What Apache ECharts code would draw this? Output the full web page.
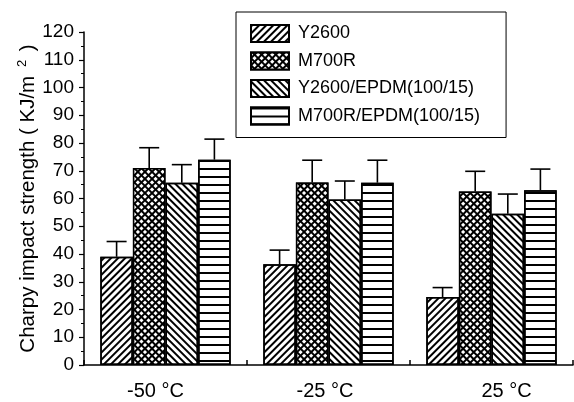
<!DOCTYPE html>
<html>
<head>
<meta charset="utf-8">
<script src="https://cdn.jsdelivr.net/npm/echarts@6/dist/echarts.min.js"></script>
<style>
html,body{margin:0;padding:0;background:#fff;}
#c{width:574px;height:402px;}
</style>
</head>
<body>
<div id="c"></div>
<script>
const categories = ['-50 °C', '-25 °C', '25 °C'];
const seriesNames = ['Y2600', 'M700R', 'Y2600/EPDM(100/15)', 'M700R/EPDM(100/15)'];
const y2600 = [39.0, 36.3, 24.5];
const m700r = [71.0, 65.8, 62.5];
const y2600Epdm = [65.7, 59.6, 54.5];
const m700rEpdm = [74.0, 65.7, 63.0];
const y2600Err = [5.5, 5.1, 3.4];
const m700rErr = [7.3, 8.0, 7.3];
const y2600EpdmErr = [6.5, 6.7, 7.1];
const m700rEpdmErr = [7.4, 8.1, 7.6];
const yTicks = [0, 10, 20, 30, 40, 50, 60, 70, 80, 90, 100, 110, 120];

const values = [y2600, m700r, y2600Epdm, m700rEpdm];
const errors = [y2600Err, m700rErr, y2600EpdmErr, m700rEpdmErr];

const decals = [
  {symbol: 'rect', color: '#000', dashArrayX: [1, 0], dashArrayY: [1.2, 2.4], rotation: -Math.PI / 4},
  {symbol: 'rect', color: '#fff', backgroundColor: '#000', dashArrayX: [2.6, 1.6], dashArrayY: [2.6, 1.6], rotation: Math.PI / 4},
  {symbol: 'rect', color: '#000', dashArrayX: [1, 0], dashArrayY: [1.2, 2.4], rotation: Math.PI / 4},
  {symbol: 'rect', color: '#000', dashArrayX: [1, 0], dashArrayY: [1.3, 5.9], rotation: 0}
];

const font = '"Liberation Sans", Arial, sans-serif';
const chart = echarts.init(document.getElementById('c'), null, {renderer: 'canvas'});

const series = [];
values.forEach((vals, i) => {
  series.push({
    name: seriesNames[i],
    type: 'bar',
    data: vals,
    barGap: '0%',
    barCategoryGap: '20%',
    itemStyle: {color: '#fff', borderColor: '#000', borderWidth: 1.5, decal: decals[i]},
    emphasis: {disabled: true},
    z: 2
  });
});
values.forEach((vals, i) => {
  series.push({
    type: 'custom',
    data: vals.map((v, k) => [k, v, errors[i][k]]),
    encode: {x: 0, y: 1},
    z: 3,
    silent: true,
    renderItem: function (params, api) {
      const x = api.value(0), v = api.value(1), e = api.value(2);
      const bw = api.size([1, 0])[0];
      const w = bw * 0.8 / 4;
      const off = (i - 1.5) * w;
      const p0 = api.coord([x, v]);
      const p1 = api.coord([x, v + e]);
      const cx = p0[0] + off;
      const half = 10;
      const st = {stroke: '#000', lineWidth: 1.6};
      return {
        type: 'group',
        children: [
          {type: 'line', shape: {x1: cx, y1: p0[1], x2: cx, y2: p1[1]}, style: st},
          {type: 'line', shape: {x1: cx - half, y1: p1[1], x2: cx + half, y2: p1[1]}, style: st}
        ]
      };
    }
  });
});

const labelStyles = ['l0', 'l1', 'l2'];
chart.setOption({
  animation: false,
  backgroundColor: '#fff',
  grid: {left: 84, right: 1, top: 32, bottom: 37},
  legend: {
    data: seriesNames,
    orient: 'vertical',
    left: 236,
    top: 12,
    padding: [12, 26, 12, 14],
    itemWidth: 38,
    itemHeight: 17,
    itemGap: 8.5,
    borderColor: '#000',
    borderWidth: 1,
    icon: 'rect',
    selectedMode: false,
    textStyle: {fontFamily: font, fontSize: 18, lineHeight: 18, color: '#000', padding: [0, 0, 0, 4]}
  },
  xAxis: {
    type: 'category',
    data: categories,
    axisLine: {lineStyle: {color: '#000', width: 1.5}},
    axisTick: {show: true, inside: true, length: 5, lineStyle: {color: '#000', width: 1.5}},
    axisLabel: {
      fontFamily: font, fontSize: 20, color: '#000', margin: 16,
      formatter: function (value, index) { return '{' + labelStyles[index] + '|' + value + '}'; },
      rich: {
        l0: {fontFamily: font, fontSize: 20, color: '#000', padding: [0, 20, 0, 0]},
        l1: {fontFamily: font, fontSize: 20, color: '#000', padding: [0, 7, 0, 0]},
        l2: {fontFamily: font, fontSize: 20, color: '#000', padding: [0, 0, 0, 30]}
      }
    }
  },
  yAxis: {
    type: 'value',
    min: yTicks[0],
    max: yTicks[yTicks.length - 1],
    interval: yTicks[1] - yTicks[0],
    splitLine: {show: false},
    axisLine: {show: true, lineStyle: {color: '#000', width: 1.5}},
    axisTick: {show: true, length: 5, lineStyle: {color: '#000', width: 1.2}},
    minorTick: {show: true, splitNumber: 2, length: 3, lineStyle: {color: '#000', width: 1}},
    axisLabel: {fontFamily: font, fontSize: 19, color: '#000', margin: 10},
    name: 'Charpy impact strength ( KJ/m {sup|2} )',
    nameLocation: 'middle',
    nameGap: 43,
    nameMoveOverlap: false,
    nameTextStyle: {
      fontFamily: font, fontSize: 20.5, color: '#000',
      rich: {sup: {fontFamily: font, fontSize: 13, color: '#000', verticalAlign: 'bottom', padding: [0, 3, 12, 3]}}
    }
  },
  series: series
});
</script>
</body>
</html>
